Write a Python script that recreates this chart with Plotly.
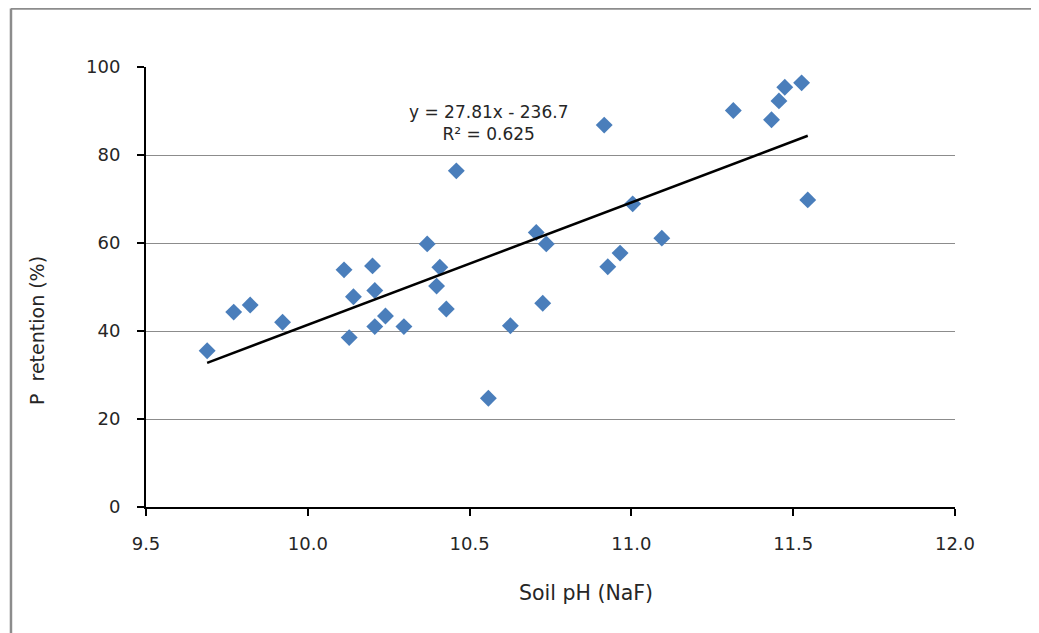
import plotly.graph_objects as go

# Data
soil_ph = [9.689, 9.771, 9.822, 9.922, 10.112, 10.128, 10.141, 10.200, 10.207, 10.207,
           10.240, 10.297, 10.369, 10.398, 10.408, 10.428, 10.459, 10.558, 10.626, 10.706,
           10.726, 10.737, 10.916, 10.927, 10.965, 11.004, 11.094, 11.315, 11.433, 11.456,
           11.474, 11.526, 11.545]
p_retention = [35.5, 44.3, 45.9, 42.0, 53.9, 38.5, 47.8, 54.8, 49.2, 41.0,
               43.4, 41.0, 59.8, 50.2, 54.5, 45.0, 76.4, 24.7, 41.2, 62.4,
               46.3, 59.8, 86.8, 54.6, 57.7, 68.9, 61.1, 90.1, 88.0, 92.3,
               95.4, 96.4, 69.8]

slope = 27.81
intercept = -236.7
r_squared = 0.625

x_ticks = [9.5, 10.0, 10.5, 11.0, 11.5, 12.0]
x_tick_labels = ["9.5", "10.0", "10.5", "11.0", "11.5", "12.0"]
y_ticks = [0, 20, 40, 60, 80, 100]

trend_x = [min(soil_ph), max(soil_ph)]
trend_y = [slope * v + intercept for v in trend_x]

FONT = "'DejaVu Sans', sans-serif"
TXT = "#262626"

fig = go.Figure()
fig.add_trace(go.Scatter(
    x=soil_ph, y=p_retention, mode="markers",
    marker=dict(symbol="diamond", size=13, color="#4A7EBB", line=dict(width=0)),
    showlegend=False, hoverinfo="x+y"))
fig.add_trace(go.Scatter(
    x=trend_x, y=trend_y, mode="lines",
    line=dict(color="black", width=2.5), showlegend=False, hoverinfo="skip"))

fig.update_layout(
    width=1031, height=625,
    margin=dict(l=138, r=84, t=59, b=126),
    paper_bgcolor="white", plot_bgcolor="white",
    font=dict(family=FONT, size=17, color=TXT),
    xaxis=dict(range=[9.5, 12.0], tickvals=x_ticks, ticktext=x_tick_labels,
               showgrid=False, zeroline=False, showline=True, linecolor="black", linewidth=2,
               ticks="outside", ticklen=7, tickwidth=1.5, tickcolor="black",
               ticklabelstandoff=12, tickfont=dict(size=18, color=TXT, family=FONT)),
    yaxis=dict(range=[0, 100], tickvals=y_ticks,
               showgrid=True, gridcolor="#8c8c8c", gridwidth=1, zeroline=False,
               showline=True, linecolor="black", linewidth=2,
               ticks="outside", ticklen=7, tickwidth=1.5, tickcolor="black",
               ticklabelstandoff=13, tickfont=dict(size=18, color=TXT, family=FONT)),
    shapes=[
        dict(type="line", xref="paper", yref="paper", x0=-0.1669, x1=-0.1669, y0=-0.4, y1=1.133,
             line=dict(color="#8c8c8c", width=2.5)),
        dict(type="line", xref="paper", yref="paper", x0=-0.1669, x1=1.3, y0=1.133, y1=1.133,
             line=dict(color="#8c8c8c", width=2.5)),
    ],
    annotations=[
        dict(x=10.557, y=87.3, xref="x", yref="y", showarrow=False,
             xanchor="center", yanchor="middle",
             text=f"y = {slope}x - {abs(intercept)}<br>R² = {r_squared}",
             font=dict(size=17, color=TXT, family=FONT), align="center"),
        dict(x=0.544, y=-0.195, xref="paper", yref="paper", showarrow=False,
             xanchor="center", yanchor="middle",
             text="Soil pH (NaF)", font=dict(size=20.5, color=TXT, family=FONT)),
        dict(x=-0.1347, y=0.40, xref="paper", yref="paper", showarrow=False, textangle=-90,
             xanchor="center", yanchor="middle",
             text="P\u00a0 retention (%)", font=dict(size=19, color=TXT, family=FONT)),
    ],
)

fig.write_html("out.html")
